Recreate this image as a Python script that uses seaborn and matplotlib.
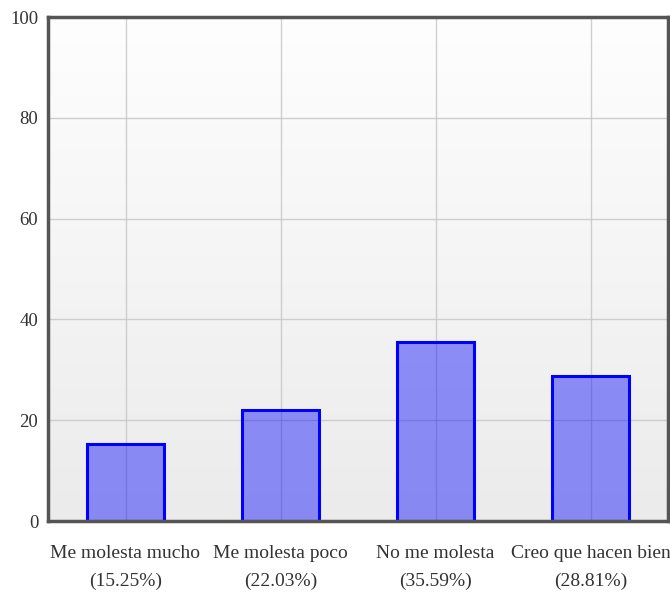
import numpy as np
import pandas as pd
import matplotlib
matplotlib.use("Agg")
import matplotlib.pyplot as plt
import seaborn as sns

categories = ["Me molesta mucho", "Me molesta poco", "No me molesta", "Creo que hacen bien"]
percentages = [15.25, 22.03, 35.59, 28.81]
y_ticks = [0, 20, 40, 60, 80, 100]

labels = [f"{c}\n({p:.2f}%)" for c, p in zip(categories, percentages)]
df = pd.DataFrame({"label": labels, "value": percentages})

sns.set_theme(style="white")
plt.rcParams["font.family"] = ["Liberation Serif", "DejaVu Serif"]

fig = plt.figure(figsize=(6.70, 5.96), dpi=100)
ax = fig.add_axes([48 / 670, 1 - 521 / 596, 620 / 670, 504 / 596])

# soft vertical gradient for the plotting area
grad = np.linspace(0, 1, 256).reshape(-1, 1)
ax.imshow(grad, extent=[0, 1, 0, 1], transform=ax.transAxes, aspect="auto",
          cmap=matplotlib.colors.LinearSegmentedColormap.from_list("bg", ["#ebebeb", "#fefefe"]),
          origin="lower", zorder=0)

sns.barplot(data=df, x="label", y="value", ax=ax, width=0.5, saturation=1,
            color="#0000ff", alpha=0.42, edgecolor="none", zorder=2)
# crisp blue outlines on top of the translucent fill
for patch in list(ax.patches):
    x0, y0 = patch.get_x(), patch.get_y()
    w, h = patch.get_width(), patch.get_height()
    ax.add_patch(plt.Rectangle((x0, y0), w, h, fill=False, edgecolor="#0000ff",
                               linewidth=2.2, zorder=3))

ax.set_ylim(0, 100)
ax.set_xlim(-0.5, len(categories) - 0.5)
ax.set_yticks(y_ticks)
ax.set_xlabel("")
ax.set_ylabel("")

ax.grid(True, color="#c4c4c4", linewidth=1)
for gl in ax.get_xgridlines() + ax.get_ygridlines():
    gl.set_zorder(2.5)
    gl.set_alpha(0.8)

for s in ax.spines.values():
    s.set_color("#555555")
    s.set_linewidth(2.5)
    s.set_zorder(5)

ax.tick_params(axis="both", length=0, colors="#333333")
ax.tick_params(axis="y", labelsize=13.5, pad=7)
ax.tick_params(axis="x", labelsize=14, pad=17)
for t in ax.get_xticklabels():
    t.set_linespacing(1.8)

fig.savefig("out.png", dpi=100)
